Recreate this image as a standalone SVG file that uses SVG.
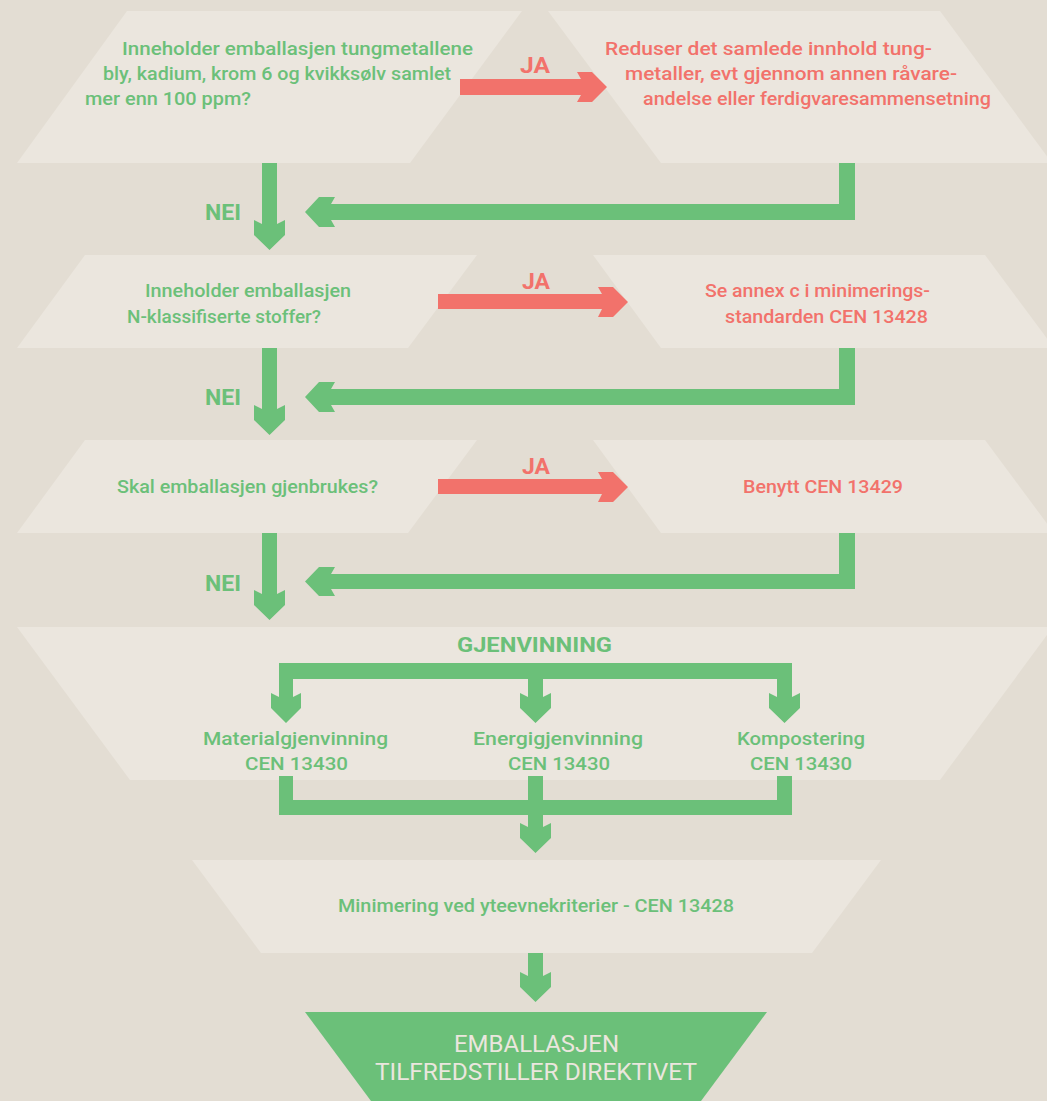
<svg xmlns="http://www.w3.org/2000/svg" width="1047" height="1101" viewBox="0 0 1047 1101">
<style>
.bg{fill:#e3ddd3}
.box{fill:#ebe6de}
.g{fill:#6bc079}
.r{fill:#f2726b}
text{font-family:Roboto,"Liberation Sans",sans-serif;font-weight:500;font-size:18px}
.tg{fill:#6bc079}
.tr{fill:#f2726b}
.lbl{font-weight:700;font-size:22px}
.hd{font-weight:700;font-size:20px}
.fin{fill:#ebe6de;font-size:23px;font-weight:400}
</style>
<rect class="bg" x="0" y="0" width="1047" height="1101"/>

<g id="q1">
<polygon class="box" points="127,11 522,11 410,163 17,163"/>
<text class="tg" x="122" y="55" textLength="351" lengthAdjust="spacingAndGlyphs">Inneholder emballasjen tungmetallene</text>
<text class="tg" x="103" y="80" textLength="348" lengthAdjust="spacingAndGlyphs">bly, kadium, krom 6 og kvikksølv samlet</text>
<text class="tg" x="85" y="105" textLength="166" lengthAdjust="spacingAndGlyphs">mer enn 100 ppm?</text>
</g>
<g id="a1">
<polygon class="box" points="548,11 940,11 1052,163 661,163"/>
<text class="tr" x="605" y="55" textLength="327" lengthAdjust="spacingAndGlyphs">Reduser det samlede innhold tung-</text>
<text class="tr" x="625" y="80" textLength="332" lengthAdjust="spacingAndGlyphs">metaller, evt gjennom annen råvare-</text>
<text class="tr" x="643" y="105" textLength="348" lengthAdjust="spacingAndGlyphs">andelse eller ferdigvaresammensetning</text>
</g>

<g id="q2">
<polygon class="box" points="85,255 477,255 408,348 17,348"/>
<text class="tg" x="145" y="297" textLength="206" lengthAdjust="spacingAndGlyphs">Inneholder emballasjen</text>
<text class="tg" x="127" y="323" textLength="194" lengthAdjust="spacingAndGlyphs">N-klassifiserte stoffer?</text>
</g>
<g id="a2">
<polygon class="box" points="593,255 985,255 1054,348 661,348"/>
<text class="tr" x="705" y="297" textLength="225" lengthAdjust="spacingAndGlyphs">Se annex c i minimerings-</text>
<text class="tr" x="725" y="323" textLength="203" lengthAdjust="spacingAndGlyphs">standarden CEN 13428</text>
</g>

<g id="q3">
<polygon class="box" points="85,440 477,440 408,533 17,533"/>
<text class="tg" x="117" y="493" textLength="261" lengthAdjust="spacingAndGlyphs">Skal emballasjen gjenbrukes?</text>
</g>
<g id="a3">
<polygon class="box" points="593,440 985,440 1054,533 661,533"/>
<text class="tr" x="743" y="493" textLength="160" lengthAdjust="spacingAndGlyphs">Benytt CEN 13429</text>
</g>

<g id="gjenvinning">
<polygon class="box" points="17,627 1053,627 940,780 130,780"/>
<text class="tg hd" x="457" y="652" textLength="155" lengthAdjust="spacingAndGlyphs">GJENVINNING</text>
<text class="tg" x="203" y="745" textLength="185" lengthAdjust="spacingAndGlyphs">Materialgjenvinning</text>
<text class="tg" x="245" y="770" textLength="103" lengthAdjust="spacingAndGlyphs">CEN 13430</text>
<text class="tg" x="473" y="745" textLength="170" lengthAdjust="spacingAndGlyphs">Energigjenvinning</text>
<text class="tg" x="508" y="770" textLength="102" lengthAdjust="spacingAndGlyphs">CEN 13430</text>
<text class="tg" x="737" y="745" textLength="128" lengthAdjust="spacingAndGlyphs">Kompostering</text>
<text class="tg" x="750" y="770" textLength="102" lengthAdjust="spacingAndGlyphs">CEN 13430</text>
</g>

<g id="minimering">
<polygon class="box" points="192,860 881,860 812,953 261,953"/>
<text class="tg" x="338" y="912" textLength="396" lengthAdjust="spacingAndGlyphs">Minimering ved yteevnekriterier - CEN 13428</text>
</g>

<g id="result">
<polygon class="g" points="305,1012 767,1012 701,1101 371,1101"/>
<text class="fin" x="454" y="1052" textLength="165" lengthAdjust="spacingAndGlyphs">EMBALLASJEN</text>
<text class="fin" x="375" y="1080" textLength="322" lengthAdjust="spacingAndGlyphs">TILFREDSTILLER DIREKTIVET</text>
</g>

<g id="connectors">
<path class="r" d="M460,79 H581 L577,72 H592 L607,87 L592,102 H577 L581,95 H460 Z"/>
<path class="r" d="M438,294 H602 L598,287 H613 L628,302 L613,317 H598 L602,309 H438 Z"/>
<path class="r" d="M438,479 H602 L598,472 H613 L628,487 L613,502 H598 L602,494 H438 Z"/>
<text class="tr lbl" x="520" y="73" textLength="30" lengthAdjust="spacingAndGlyphs">JA</text>
<text class="tr lbl" x="522" y="289" textLength="28" lengthAdjust="spacingAndGlyphs">JA</text>
<text class="tr lbl" x="522" y="474" textLength="28" lengthAdjust="spacingAndGlyphs">JA</text>
<path class="g" d="M262,163 H277 V224 L285,220 V235 L269.5,250 L254,235 V220 L262,224 Z"/>
<path class="g" d="M262,348 H277 V409 L285,405 V420 L269.5,435 L254,420 V405 L262,409 Z"/>
<path class="g" d="M262,533 H277 V594 L285,590 V605 L269.5,620 L254,605 V590 L262,594 Z"/>
<text class="tg lbl" x="205" y="220" textLength="36" lengthAdjust="spacingAndGlyphs">NEI</text>
<text class="tg lbl" x="205" y="405" textLength="36" lengthAdjust="spacingAndGlyphs">NEI</text>
<text class="tg lbl" x="205" y="591" textLength="36" lengthAdjust="spacingAndGlyphs">NEI</text>
<path class="g" d="M839,163 H855 V220 H331 L335,227 H319 L305,212 L319,197 H335 L331,204 H839 Z"/>
<path class="g" d="M839,348 H855 V405 H331 L335,412 H319 L305,397 L319,382 H335 L331,389 H839 Z"/>
<path class="g" d="M839,533 H855 V589 H331 L335,596 H319 L305,581.5 L319,567 H335 L331,574 H839 Z"/>
<path class="g" d="M279,663 H792 V697 L800,693 V708 L784.5,723 L769,708 V693 L777,697 V679 H543 V697 L551,693 V708 L535.5,723 L520,708 V693 L528,697 V679 H293 V697 L301,693 V708 L286,723 L271,708 V693 L279,697 Z"/>
<path class="g" d="M279,776 H293 V800 H528 V776 H543 V800 H777 V776 H792 V815 H543 V827 L551,823 V838 L535.5,853 L520,838 V823 L528,827 V815 H279 Z"/>
<path class="g" d="M528,953 H543 V976 L551,972 V987 L535.5,1002 L520,987 V972 L528,976 Z"/>
</g>
</svg>
